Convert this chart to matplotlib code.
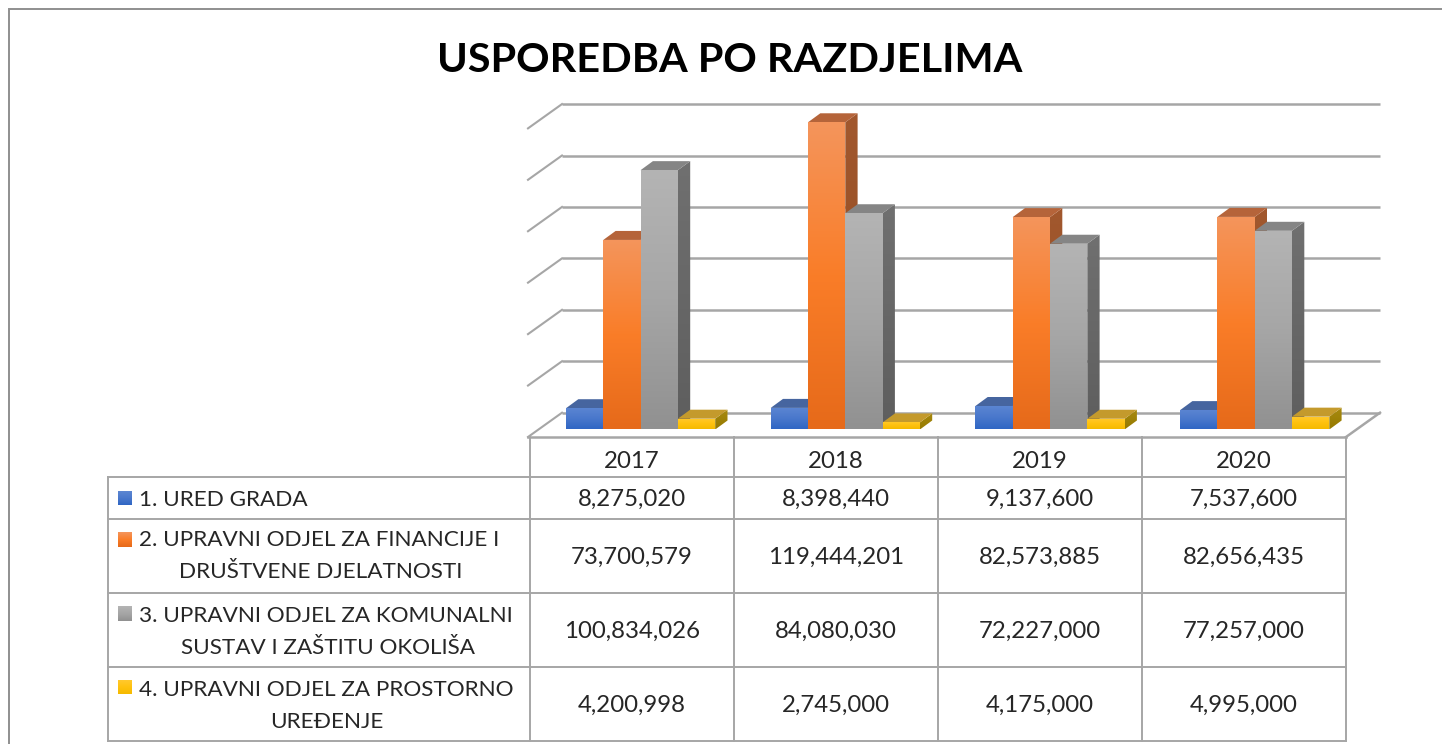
import numpy as np
import matplotlib
matplotlib.use("Agg")
import matplotlib.pyplot as plt
from matplotlib.patches import Polygon
from matplotlib.colors import LinearSegmentedColormap

plt.rcParams['font.family'] = ['Lato', 'DejaVu Sans']

TITLE = "USPOREDBA PO RAZDJELIMA"
years = ["2017", "2018", "2019", "2020"]
series_labels = [
    ["1. URED GRADA"],
    ["2. UPRAVNI ODJEL ZA FINANCIJE I", "DRUŠTVENE DJELATNOSTI"],
    ["3. UPRAVNI ODJEL ZA KOMUNALNI", "SUSTAV I ZAŠTITU OKOLIŠA"],
    ["4. UPRAVNI ODJEL ZA PROSTORNO", "UREĐENJE"],
]
ured_grada = [8275020, 8398440, 9137600, 7537600]
financije = [73700579, 119444201, 82573885, 82656435]
komunalni = [100834026, 84080030, 72227000, 77257000]
prostorno = [4200998, 2745000, 4175000, 4995000]
grid_values = [0, 20e6, 40e6, 60e6, 80e6, 100e6, 120e6]

all_series = [ured_grada, financije, komunalni, prostorno]
# front gradient (top, mid, bottom), top face, side gradient (top, bottom)
styles = [
    (("#5C86D2", "#4A78CC", "#2F66C4"), "#46659F", ("#2F4F8C", "#24437C")),
    (("#F4955C", "#FA7D28", "#E66A1A"), "#B5643A", ("#A2582E", "#8F4A20")),
    (("#B4B4B4", "#A6A6A6", "#919191"), "#858585", ("#707070", "#5E5E5E")),
    (("#FFC92E", "#FFC20F", "#F5BA00"), "#C49A2C", ("#A88A10", "#967A00")),
]

W, H = 1442, 744
fig = plt.figure(figsize=(W / 100, H / 100), dpi=100, facecolor="white")

# pixel overlay for the frame, title and table
ov = fig.add_axes([0, 0, 1, 1], zorder=1)
ov.set_xlim(0, W)
ov.set_ylim(H, 0)
ov.axis("off")
ov.patch.set_alpha(0)

# chart axes: x in categories, y in value units
PX_PER_UNIT = 2.572e-6
Y0_PX = 429.5
LEFT, RIGHT = 530, 1348.8
AX_TOP, AX_BOT = 90, 437
ax = fig.add_axes([LEFT / W, 1 - AX_BOT / H, (RIGHT - LEFT) / W, (AX_BOT - AX_TOP) / H], zorder=2)
ax.patch.set_alpha(0)
ax.axis("off")
xlim = (0, 4)
ylim = (-(AX_BOT - Y0_PX) / PX_PER_UNIT, (Y0_PX - AX_TOP) / PX_PER_UNIT)
px_x = 4 / (RIGHT - LEFT)   # category units per pixel
px_y = 1 / PX_PER_UNIT      # value units per pixel

GRID = "#a6a6a6"
# back wall: gridlines, left diagonals
wall_dx = 32 * px_x
floor_right = (1346 - LEFT) * px_x
wall_x_end = (1380 - LEFT) * px_x
wall_offset = (Y0_PX - 412.7) * px_y
floor_offset = -(437 - 412.7) * px_y
for v in grid_values:
    yb = v + wall_offset
    ax.plot([wall_dx, wall_x_end], [yb, yb], color=GRID, lw=1.8, clip_on=False, zorder=1,
            solid_capstyle="butt")
    ax.plot([-2 * px_x, wall_dx], [yb + floor_offset, yb], color=GRID, lw=1.5, clip_on=False, zorder=1)
ax.plot([floor_right, wall_x_end], [wall_offset + floor_offset, wall_offset], color=GRID, lw=1.8,
        clip_on=False, zorder=1)
ax.plot([-2 * px_x, floor_right], [wall_offset + floor_offset] * 2, color=GRID, lw=1.8, clip_on=False, zorder=1)


def grad_poly(verts, colors, z):
    cmap = LinearSegmentedColormap.from_list("g", colors)
    xs = [p[0] for p in verts]
    ys = [p[1] for p in verts]
    im = ax.imshow(np.linspace(0, 1, 128).reshape(-1, 1), cmap=cmap, aspect="auto", zorder=z,
                   extent=(min(xs), max(xs), min(ys), max(ys)), origin="upper", vmin=0, vmax=1)
    clip = Polygon(verts, closed=True, transform=ax.transData, facecolor="none", edgecolor="none")
    ax.add_patch(clip)
    im.set_clip_path(clip)


bar_w = 37.3 * px_x
group_left = 36 * px_x
depth_x = 12.3 * px_x
depth_y = 9 * px_y
z = 2.0
for i in range(len(years)):
    for s, vals in enumerate(all_series):
        v = vals[i]
        front, top_c, side = styles[s]
        x0 = i + group_left + s * bar_w
        x1 = x0 + bar_w
        grad_poly([(x1, 0), (x1 + depth_x, depth_y), (x1 + depth_x, v + depth_y), (x1, v)], side, z)
        ax.add_patch(Polygon([(x0, v), (x1, v), (x1 + depth_x, v + depth_y), (x0 + depth_x, v + depth_y)],
                             closed=True, facecolor=top_c, edgecolor="none", zorder=z + 0.01))
        grad_poly([(x0, 0), (x1, 0), (x1, v), (x0, v)], front, z + 0.02)
        z += 0.1
ax.set_xlim(*xlim)
ax.set_ylim(*ylim)

# frame
FRAME = "#8f8f8f"
ov.plot([W, 9, 9], [9, 9, H], color=FRAME, lw=1.4, solid_joinstyle="miter")

# title
ov.text(729.5, 61, TITLE, fontsize=29.8, fontweight="bold", color="black", ha="center", va="center")

# table
col_x = [530, 734, 938, 1142, 1346]
row_y = [477, 519, 593, 667, 741]
TBL = "#a6a6a6"
for x in col_x:
    ov.plot([x, x], [437, row_y[-1]], color=TBL, lw=1.4)
ov.plot([108, 108], [row_y[0], row_y[-1]], color=TBL, lw=1.4)
for y in row_y:
    ov.plot([108, 1346], [y, y], color=TBL, lw=1.4)

TXT = "#262626"
FS_LABEL = 16.2
FS_NUM = 17.3
for c, yr in enumerate(years):
    ov.text((col_x[c] + col_x[c + 1]) / 2, 462, yr, fontsize=FS_NUM, color=TXT, ha="center", va="center")

line_ys = [[499.5], [539.5, 572.5], [615.5, 647.5], [689.5, 721.5]]
key_ys = [(491, 505), (532, 547), (606, 621), (680, 694)]
line_centers = [None, 321, 328, 327]
for r, (labels, vals) in enumerate(zip(series_labels, all_series)):
    top, mid, bot = styles[r][0]
    cmap = LinearSegmentedColormap.from_list("k", [top, mid, bot])
    ov.imshow(np.linspace(0, 1, 32).reshape(-1, 1), cmap=cmap, aspect="auto",
              extent=(118, 132, key_ys[r][1], key_ys[r][0]), origin="upper", zorder=3)
    ov.text(139, line_ys[r][0], labels[0], fontsize=FS_LABEL, color=TXT, ha="left", va="center")
    if len(labels) > 1:
        ov.text(line_centers[r], line_ys[r][1], labels[1], fontsize=FS_LABEL, color=TXT, ha="center", va="center")
    cy = (row_y[r] + row_y[r + 1]) / 2 + 1
    for c, v in enumerate(vals):
        ov.text((col_x[c] + col_x[c + 1]) / 2, cy, f"{v:,}", fontsize=FS_NUM, color=TXT, ha="center", va="center")
ov.set_xlim(0, W)
ov.set_ylim(H, 0)

fig.savefig("out.png", dpi=100)
